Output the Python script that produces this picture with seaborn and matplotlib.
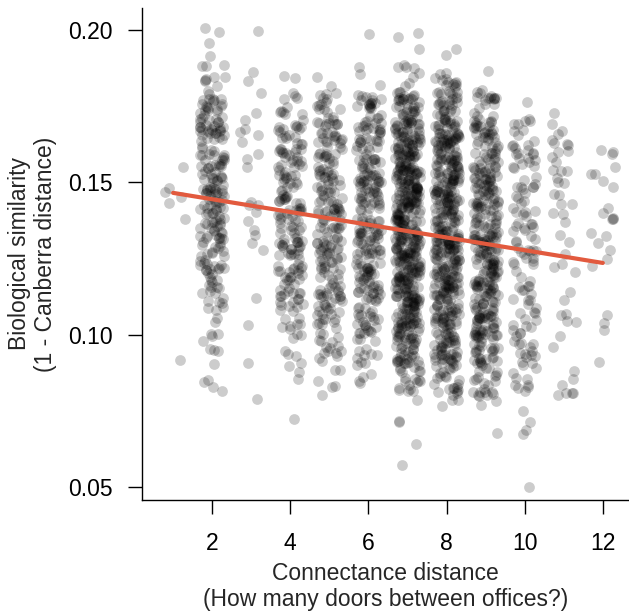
import numpy as np
import pandas as pd
import matplotlib
matplotlib.use('Agg')
import matplotlib.pyplot as plt
import seaborn as sns

# biological similarity bins (lower edges), width 0.01
BIN_W = 0.01
bin_lo = [0.05, 0.06, 0.07, 0.08, 0.09, 0.10, 0.11, 0.12,
          0.13, 0.14, 0.15, 0.16, 0.17, 0.18, 0.19, 0.20]

# connectance distance (doors between offices)
doors = [1, 2, 3, 4, 5, 6, 7, 8, 9, 10, 11, 12]

# number of office pairs per similarity bin
counts_d1 = [0, 0, 0, 0, 1, 0, 0, 0, 1, 4, 1, 0, 0, 0, 0, 0]
counts_d2 = [0, 0, 0, 4, 6, 7, 15, 25, 30, 32, 32, 30, 25, 9, 3, 1]
counts_d3 = [0, 0, 1, 0, 1, 1, 1, 2, 3, 4, 3, 4, 3, 2, 1, 0]
counts_d4 = [0, 0, 1, 3, 6, 14, 22, 26, 26, 26, 25, 23, 11, 2, 0, 0]
counts_d5 = [0, 0, 0, 6, 14, 20, 26, 28, 28, 28, 28, 26, 16, 2, 0, 0]
counts_d6 = [0, 0, 0, 4, 12, 24, 30, 32, 32, 32, 32, 30, 22, 3, 1, 0]
counts_d7 = [1, 1, 3, 18, 40, 50, 58, 62, 62, 62, 60, 55, 36, 8, 3, 0]
counts_d8 = [0, 0, 3, 22, 40, 45, 50, 52, 52, 52, 52, 48, 34, 12, 2, 0]
counts_d9 = [0, 1, 3, 20, 36, 40, 42, 42, 42, 40, 38, 33, 18, 2, 0, 0]
counts_d10 = [1, 2, 2, 10, 14, 12, 12, 14, 14, 15, 14, 12, 3, 0, 0, 0]
counts_d11 = [0, 0, 0, 7, 2, 4, 2, 4, 5, 5, 8, 8, 1, 0, 0, 0]
counts_d12 = [0, 0, 0, 0, 1, 3, 0, 3, 7, 2, 6, 1, 0, 0, 0, 0]

# fitted regression line end points
fit_x = [1, 12]
fit_y = [0.1465, 0.1235]

counts = [counts_d1, counts_d2, counts_d3, counts_d4, counts_d5, counts_d6,
          counts_d7, counts_d8, counts_d9, counts_d10, counts_d11, counts_d12]

rows = []
for d, cnt in zip(doors, counts):
    for lo, c in zip(bin_lo, cnt):
        rows += [(d, lo + BIN_W / 2)] * c
df = pd.DataFrame(rows, columns=['doors', 'similarity'])

sns.set_style('ticks')
plt.rcParams['font.family'] = ['Liberation Sans', 'DejaVu Sans']

fig = plt.figure(figsize=(6.29, 6.11), dpi=100)
ax = fig.add_axes([0.2258, 0.1817, 0.7742, 0.8053])

sns.regplot(data=df, x='doors', y='similarity', x_jitter=0.32, y_jitter=BIN_W / 2,
            fit_reg=False, color='black', ax=ax,
            scatter_kws={'s': 60, 'alpha': 0.2, 'linewidths': 0})
sns.lineplot(x=fit_x, y=fit_y, color='#e25a3e', lw=3, ax=ax)

ax.set_xlim(0.205, 12.67)
ax.set_ylim(0.0457, 0.2072)
ax.set_xticks([2, 4, 6, 8, 10, 12])
ax.set_yticks([0.05, 0.10, 0.15, 0.20])
ax.set_yticklabels(['0.05', '0.10', '0.15', '0.20'])
ax.spines[['top', 'right']].set_visible(False)
for s in ['left', 'bottom']:
    ax.spines[s].set_linewidth(1.0)
    ax.spines[s].set_color('black')
ax.tick_params(direction='out', length=10, width=1, labelsize=16.5, colors='black')
ax.tick_params(axis='x', pad=13)
ax.tick_params(axis='y', pad=11)

ax.set_xlabel('Connectance distance\n(How many doors between offices?)',
              fontsize=16.5, labelpad=5, linespacing=1.2)
ax.set_ylabel('Biological similarity\n(1 - Canberra distance)',
              fontsize=16.5, labelpad=8, linespacing=1.2)

fig.savefig('out.png', dpi=100)
